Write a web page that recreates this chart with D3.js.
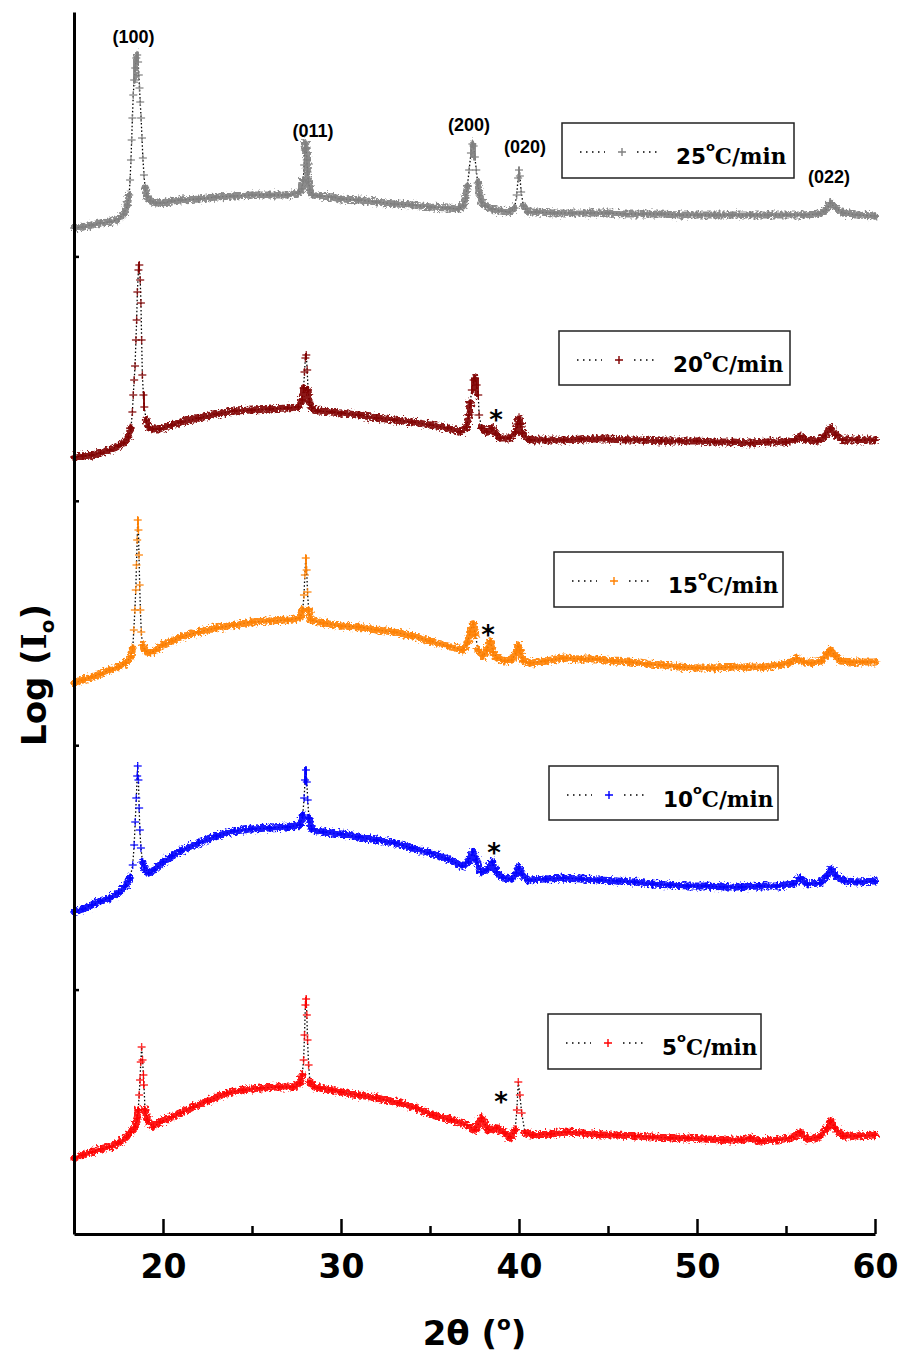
<!DOCTYPE html>
<html>
<head>
<meta charset="utf-8">
<script src="https://cdn.jsdelivr.net/npm/d3@7"></script>
<style>
  body { margin: 0; background: #fff; }
  .tick-label { font-family: "DejaVu Sans", Verdana, sans-serif; font-weight: bold; }
</style>
</head>
<body>
<div id="chart"></div>
<script>
// heating rates (legend) and colours, top to bottom
const rates = ["25", "20", "15", "10", "5"];
const colors = ["#808080", "#800000", "#ff8000", "#0000ff", "#ff0000"];

// [2theta, log intensity (a.u., stacked)]
const s25 = [[15,1006],[15.5,1007],[16,1009],[16.5,1011],[17,1012],[17.5,1015],[17.8,1020],[18,1029],[18.1,1039],
  [18.15,1054],[18.2,1074],[18.24,1094],[18.28,1116],[18.33,1139],[18.38,1154],[18.44,1166],[18.5,1176],[18.55,1179],
  [18.6,1172],[18.64,1159],[18.68,1146],[18.72,1132],[18.77,1116],[18.82,1096],[18.87,1076],[18.93,1059],[19,1046],
  [19.1,1038],[19.3,1033],[19.6,1031],[20,1031],[20.5,1033],[21,1034],[22,1035],[23,1037],[24,1038],[25,1039],[26,1039],
  [27,1039],[27.6,1041],[27.8,1045],[27.88,1054],[27.93,1069],[27.97,1084],[28,1091],[28.04,1086],[28.08,1074],
  [28.12,1062],[28.17,1052],[28.25,1044],[28.4,1039],[28.8,1038],[29.5,1037],[30,1035],[31,1034],[32,1032],[33,1030],
  [34,1029],[35,1027],[36,1026],[36.6,1025],[36.85,1028],[37,1036],[37.1,1048],[37.2,1064],[37.3,1081],[37.38,1090],
  [37.45,1088],[37.52,1077],[37.6,1064],[37.68,1051],[37.78,1039],[37.9,1032],[38.1,1028],[38.5,1025],[39,1023],
  [39.5,1022],[39.75,1026],[39.87,1039],[39.95,1056],[40,1064],[40.05,1058],[40.12,1042],[40.25,1028],[40.5,1022],
  [41,1022],[42,1021],[43,1021],[44,1021],[45,1021],[46,1020],[47,1020],[48,1020],[49,1019],[50,1019],[51,1019],
  [52,1019],[53,1019],[54,1019],[55,1019],[56,1019],[56.8,1020],[57.2,1023],[57.5,1031],[57.8,1026],[58.2,1021],
  [59,1019],[60,1018]];

const s20 = [[15,777],[15.5,778],[16,779],[16.5,781],[17,784],[17.5,788],[17.8,791],[18.05,797],[18.2,806],[18.28,822],
  [18.33,839],[18.38,854],[18.43,868],[18.48,894],[18.52,914],[18.56,942],[18.62,964],[18.67,969],[18.72,954],
  [18.76,931],[18.8,894],[18.84,859],[18.9,839],[18.95,827],[19.05,814],[19.2,807],[19.4,805],[19.8,805],[20.5,809],
  [21,812],[22,816],[23,820],[24,823],[25,824],[26,825],[27,826],[27.6,827],[27.82,834],[27.9,846],[27.95,862],
  [28,876],[28.05,879],[28.1,864],[28.15,844],[28.22,832],[28.35,826],[28.7,823],[29.5,822],[30,821],[31,819],
  [32,816],[33,814],[34,812],[35,809],[36,806],[36.7,802],[37.06,807],[37.18,819],[37.25,831],[37.35,844],
  [37.45,854],[37.53,856],[37.62,849],[37.71,839],[37.76,819],[37.9,806],[38.18,802],[38.47,806],[38.7,800],
  [38.93,796],[39.5,796],[39.8,802],[39.92,810],[40,816],[40.08,810],[40.18,801],[40.6,794],[41.5,794],[42.5,794],
  [43.5,795],[45,795],[46,794],[47,794],[48,793],[49,793],[50,793],[51,792],[52,792],[53,791],[54,792],[55,792],
  [55.5,794],[55.8,798],[56.1,794],[56.8,793],[57.2,798],[57.5,806],[57.8,799],[58.2,794],[59,794],[60,794]];

const s15 = [[15,551],[15.5,554],[16,557],[16.5,560],[17,564],[17.5,567],[17.9,571],[18.2,577],[18.3,586],[18.36,604],
  [18.42,624],[18.47,644],[18.51,669],[18.55,694],[18.58,714],[18.62,704],[18.65,679],[18.69,649],[18.73,624],
  [18.78,602],[18.85,589],[19,583],[19.3,581],[19.6,584],[20,589],[20.5,593],[21,597],[22,602],[23,606],[24,609],
  [25,612],[26,613],[27,614],[27.7,616],[27.85,624],[27.92,639],[27.97,659],[28.02,676],[28.07,664],[28.12,642],
  [28.18,624],[28.3,614],[29,611],[30,608],[31,607],[32,604],[33,602],[34,598],[35,593],[36,588],[36.85,584],
  [37.1,591],[37.25,602],[37.42,610],[37.55,599],[37.7,584],[37.98,578],[38.2,584],[38.37,593],[38.55,582],
  [38.76,576],[39.2,573],[39.6,574],[39.85,582],[39.94,589],[40.05,584],[40.22,573],[40.62,571],[41.5,573],
  [42.5,576],[43.5,575],[44.4,575],[45.3,573],[46.2,572],[47.2,570],[48.1,569],[49,567],[50,566],[51,566],
  [51.9,567],[52.8,567],[53.7,567],[54.6,569],[55.2,571],[55.6,576],[56,572],[56.4,571],[57,573],[57.3,580],
  [57.5,584],[57.75,578],[58.1,573],[58.6,572],[59.3,572],[60,572]];

const s10 = [[15,322],[15.5,325],[16,329],[16.5,333],[17,336],[17.5,341],[17.9,348],[18.15,356],[18.3,369],[18.38,389],
  [18.44,412],[18.5,436],[18.55,458],[18.58,468],[18.62,454],[18.66,426],[18.7,404],[18.76,386],[18.85,372],
  [18.95,366],[19.2,361],[19.5,364],[20,372],[20.5,378],[21,383],[22,391],[23,398],[24,403],[25,405],[26,406],
  [27,407],[27.7,409],[27.85,419],[27.93,436],[27.98,454],[28.03,464],[28.08,452],[28.13,434],[28.2,416],
  [28.35,405],[29,402],[30,400],[31,397],[32,394],[33,391],[34,386],[35,381],[36,375],[36.8,368],[37.15,372],
  [37.4,382],[37.6,374],[37.85,362],[38.2,364],[38.5,372],[38.75,362],[39.1,356],[39.6,355],[39.85,361],[40,367],
  [40.15,360],[40.5,354],[41.5,355],[42.5,356],[43.5,355],[44.5,354],[45.5,353],[46.5,352],[47.5,350],[48.5,349],
  [49.5,348],[50.5,348],[51.5,347],[52.5,347],[53.5,348],[54.5,348],[55.4,350],[55.8,356],[56.2,350],[56.9,351],
  [57.3,358],[57.55,365],[57.8,358],[58.3,353],[59,352],[60,353]];

const s5 = [[15,76],[15.5,79],[16,82],[16.5,85],[17,87],[17.5,91],[17.96,97],[18.2,102],[18.43,107],[18.55,116],
  [18.61,124],[18.66,139],[18.71,154],[18.75,172],[18.8,187],[18.85,174],[18.9,159],[18.93,149],[18.99,124],
  [19.12,114],[19.46,107],[19.83,112],[20.5,117],[21,121],[21.7,127],[22.5,133],[23.58,141],[24.5,144],[25.45,146],
  [26.5,147],[27.3,147],[27.7,151],[27.82,159],[27.9,174],[27.95,199],[28,229],[28.04,235],[28.08,219],[28.12,194],
  [28.18,169],[28.26,152],[28.5,147],[28.82,146],[29.5,144],[30,142],[31,139],[32,136],[33.3,131],[34.2,126],
  [35.17,119],[36.2,114],[37.08,109],[37.53,104],[37.9,116],[38.26,104],[38.76,106],[39.2,101],[39.49,96],
  [39.78,104],[39.88,124],[39.96,152],[40.05,139],[40.15,121],[40.34,101],[40.79,99],[41.8,100],[42.7,102],
  [43.6,101],[44.55,99],[45.5,99],[46.5,98],[47.5,97],[48.5,96],[49.5,96],[50.5,95],[51.5,94],[52.5,94],[53,96],
  [53.5,93],[54.5,94],[55.3,96],[55.8,102],[56.2,95],[56.9,97],[57.3,106],[57.5,113],[57.75,106],[58.2,98],
  [59,98],[60,99]];

const seriesData = [s25, s20, s15, s10, s5];

const xTicks = [20, 30, 40, 50, 60];
const xMinorTicks = [25, 35, 45, 55];
const yTicks = [244.4, 488.8, 733.2, 977.6];

// Miller indices over the top pattern: [label, 2theta, height]
const peakLabels = [["(100)", 18.34, 1191], ["(011)", 28.43, 1097], ["(200)", 37.19, 1103],
  ["(020)", 40.34, 1081], ["(022)", 57.42, 1051]];
// impurity peak markers: [2theta, height]
const stars = [[38.71, 820], [38.26, 605], [38.6, 387], [38.99, 138]];

class StackedPattern {
  constructor(_config, _series) {
    this.config = {
      parentElement: _config.parentElement,
      containerWidth: _config.containerWidth || 903,
      containerHeight: _config.containerHeight || 1356,
      margin: _config.margin || {top: 12, right: 28, bottom: 122, left: 74}
    }
    this.series = _series;
    this.initVis();
  }

  initVis() {
    let vis = this;
    vis.width = vis.config.containerWidth - vis.config.margin.left - vis.config.margin.right;
    vis.height = vis.config.containerHeight - vis.config.margin.top - vis.config.margin.bottom;

    vis.root = d3.select(vis.config.parentElement).append("svg")
      .attr("width", vis.config.containerWidth)
      .attr("height", vis.config.containerHeight);

    // ragged edge for the noisy bands
    let f = vis.root.append("defs").append("filter")
      .attr("id", "rough").attr("x", "-5%").attr("y", "-60%").attr("width", "110%").attr("height", "220%");
    f.append("feTurbulence").attr("type", "fractalNoise").attr("baseFrequency", "0.45")
      .attr("numOctaves", 2).attr("seed", 4).attr("result", "n");
    f.append("feDisplacementMap").attr("in", "SourceGraphic").attr("in2", "n")
      .attr("scale", 8).attr("xChannelSelector", "R").attr("yChannelSelector", "G");

    vis.svg = vis.root.append("g")
      .attr("transform", "translate(" + vis.config.margin.left + "," + vis.config.margin.top + ")");

    vis.xScale = d3.scaleLinear().domain([15, 60]).range([0, vis.width]);
    vis.yScale = d3.scaleLinear().domain([0, 1222]).range([vis.height, 0]);

    vis.renderSeries();
    vis.renderAxes();
    vis.renderLabels();
    vis.renderLegend();
  }

  renderSeries() {
    let vis = this;
    let line = d3.line().x(d => vis.xScale(d[0])).y(d => vis.yScale(d[1]));

    vis.series.forEach((data, i) => {
      let g = vis.svg.append("g").attr("class", "pattern");

      // split into runs: the steep peak flanks only get the dotted line and crosses
      let runs = [], run = [data[0]];
      for (let k = 1; k < data.length; k++) {
        if (Math.abs(data[k][1] - data[k - 1][1]) > 12) {
          if (run.length > 1) runs.push(run);
          run = [data[k]];
        } else run.push(data[k]);
      }
      if (run.length > 1) runs.push(run);

      g.append("path")
        .attr("d", line(data))
        .attr("fill", "none")
        .attr("stroke", "#000")
        .attr("stroke-width", 1.3)
        .attr("stroke-dasharray", "1.5,2.2");

      g.selectAll(".band").data(runs).enter().append("path")
        .attr("class", "band")
        .attr("d", d => line(d))
        .attr("fill", "none")
        .attr("stroke", colors[i])
        .attr("stroke-width", 7)
        .attr("stroke-linejoin", "round")
        .attr("stroke-linecap", "round")
        .attr("opacity", 0.9)
        .attr("filter", "url(#rough)");

      g.selectAll(".mark").data(data).enter().append("path")
        .attr("class", "mark")
        .attr("transform", d => "translate(" + vis.xScale(d[0]) + "," + vis.yScale(d[1]) + ")")
        .attr("d", "M-4,0H4M0,-4V4")
        .attr("stroke", colors[i])
        .attr("stroke-width", 1.4)
        .attr("opacity", 0.8);
    });
  }

  renderAxes() {
    let vis = this;
    vis.xAxisG = vis.svg.append("g")
      .attr("transform", "translate(0," + vis.height + ")")
      .call(d3.axisBottom(vis.xScale).tickValues(xTicks).tickSizeInner(-15).tickSizeOuter(0).tickPadding(21));
    vis.xAxisG.selectAll("text")
      .attr("class", "tick-label")
      .attr("font-size", 33)
      .attr("fill", "#000");

    vis.svg.append("g")
      .attr("transform", "translate(0," + vis.height + ")")
      .call(d3.axisBottom(vis.xScale).tickValues(xMinorTicks).tickSizeInner(-8).tickSizeOuter(0).tickFormat(""))
      .select(".domain").remove();

    vis.yAxisG = vis.svg.append("g")
      .call(d3.axisLeft(vis.yScale).tickValues(yTicks).tickSizeInner(-5).tickSizeOuter(0).tickFormat(""));

    vis.svg.selectAll(".domain").attr("stroke", "#000").attr("stroke-width", 3);
    vis.svg.selectAll(".tick line").attr("stroke", "#000").attr("stroke-width", 2.5);
  }

  renderLabels() {
    let vis = this;
    vis.svg.selectAll(".hkl").data(peakLabels).enter().append("text")
      .attr("class", "hkl")
      .attr("x", d => vis.xScale(d[1]))
      .attr("y", d => vis.yScale(d[2]))
      .attr("text-anchor", "middle")
      .attr("font-family", "'Liberation Sans', Arial, sans-serif")
      .attr("font-weight", "bold")
      .attr("font-size", 18)
      .text(d => d[0]);

    vis.svg.selectAll(".star").data(stars).enter().append("text")
      .attr("class", "star")
      .attr("x", d => vis.xScale(d[0]))
      .attr("y", d => vis.yScale(d[1]) + 15)
      .attr("text-anchor", "middle")
      .attr("font-family", "'DejaVu Sans', sans-serif")
      .attr("font-weight", "bold")
      .attr("font-size", 26)
      .text("*");

    // axis titles
    let xt = vis.root.append("text")
      .attr("x", vis.config.margin.left + vis.width / 2)
      .attr("y", 1345)
      .attr("text-anchor", "middle")
      .attr("class", "tick-label")
      .attr("font-size", 34);
    xt.append("tspan").text("2θ (");
    xt.append("tspan").attr("font-size", 20).attr("dy", -15).text("o");
    xt.append("tspan").attr("dy", 15).text(")");

    let yt = vis.root.append("text")
      .attr("transform", "translate(46,675)rotate(-90)")
      .attr("text-anchor", "middle")
      .attr("class", "tick-label")
      .attr("font-size", 34);
    yt.append("tspan").text("Log (");
    yt.append("tspan").attr("font-family", "'DejaVu Serif', serif").text("I");
    yt.append("tspan").attr("font-size", 20).attr("dy", 8).text("o");
    yt.append("tspan").attr("dy", -8).text(")");
  }

  renderLegend() {
    let vis = this;
    const boxes = [
      {x: 562, y: 123, w: 232, h: 55},
      {x: 559, y: 331, w: 231, h: 54},
      {x: 554, y: 552, w: 229, h: 55},
      {x: 549, y: 766, w: 229, h: 54},
      {x: 548, y: 1014, w: 213, h: 55}
    ];
    boxes.forEach((b, i) => {
      let g = vis.root.append("g").attr("transform", "translate(" + b.x + "," + b.y + ")");
      g.append("rect")
        .attr("width", b.w).attr("height", b.h)
        .attr("fill", "#fff").attr("stroke", "#222").attr("stroke-width", 1.5);
      [[18, 43], [75, 98]].forEach(seg => {
        g.append("line")
          .attr("x1", seg[0]).attr("x2", seg[1]).attr("y1", 29).attr("y2", 29)
          .attr("stroke", "#000").attr("stroke-width", 1.3).attr("stroke-dasharray", "1.5,4.5");
      });
      g.append("path")
        .attr("transform", "translate(60,29)")
        .attr("d", "M-4,0H4M0,-4V4")
        .attr("stroke", colors[i]).attr("stroke-width", 1.4);
      let t = g.append("text")
        .attr("x", 114).attr("y", 41)
        .attr("font-weight", "bold")
        .attr("font-size", 21.5);
      t.append("tspan").attr("font-family", "'DejaVu Sans', sans-serif").text(rates[i]);
      t.append("tspan").attr("font-family", "'DejaVu Sans', sans-serif")
        .attr("font-size", 13).attr("dy", -13).text("o");
      t.append("tspan").attr("font-family", "'DejaVu Serif', serif").attr("dy", 13).text("C/min");
    });
  }
}

let chart = new StackedPattern({parentElement: "#chart"}, seriesData);
</script>
</body>
</html>
